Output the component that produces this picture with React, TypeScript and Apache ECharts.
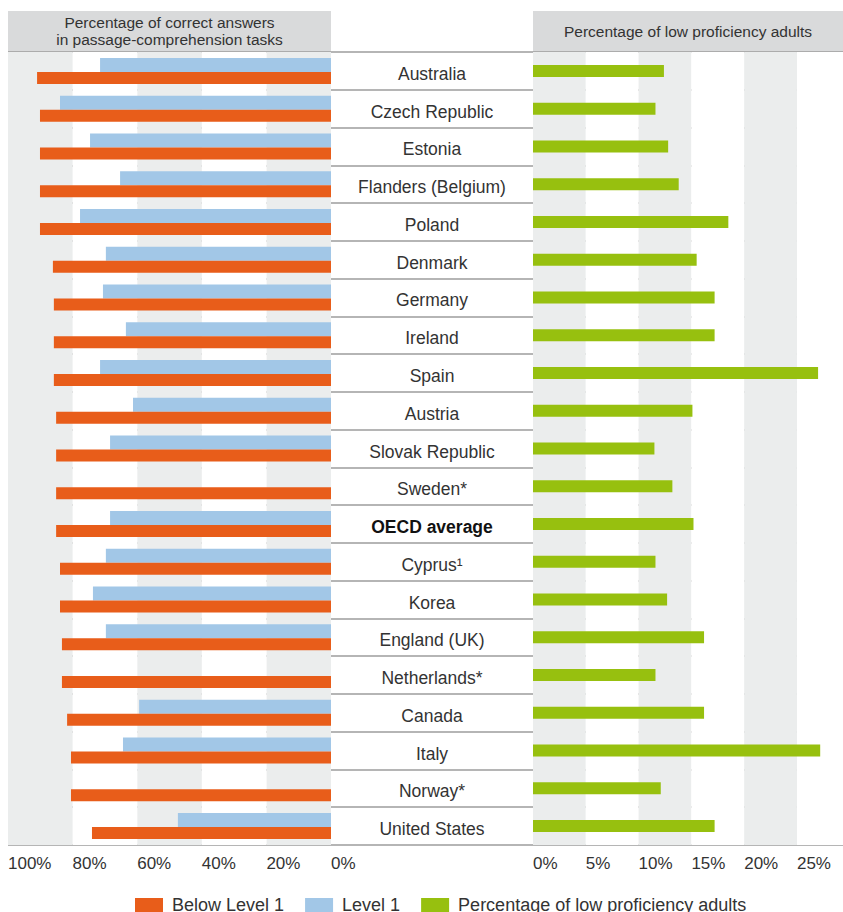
import React, { useEffect, useRef } from "react";
import * as echarts from "echarts";

const countries = [
  "Australia", "Czech Republic", "Estonia", "Flanders (Belgium)", "Poland", "Denmark",
  "Germany", "Ireland", "Spain", "Austria", "Slovak Republic", "Sweden*", "OECD average",
  "Cyprus¹", "Korea", "England (UK)", "Netherlands*", "Canada", "Italy", "Norway*", "United States",
];
const belowLevel1 = [91.0, 90.1, 90.1, 90.1, 90.1, 86.1, 85.8, 85.8, 85.8, 85.1, 85.1, 85.1, 85.1, 83.9, 83.9, 83.3, 83.3, 81.7, 80.5, 80.5, 74.0];
const level1 = [71.5, 83.9, 74.6, 65.3, 77.7, 69.7, 70.6, 63.5, 71.5, 61.3, 68.4, null, 68.4, 69.7, 73.7, 69.7, null, 59.4, 64.4, null, 47.4];
const lowProficiency = [12.4, 11.6, 12.8, 13.8, 18.5, 15.5, 17.2, 17.2, 27.0, 15.1, 11.5, 13.2, 15.2, 11.6, 12.7, 16.2, 11.6, 16.2, 27.2, 12.1, 17.2];
const leftTicks = [0, 20, 40, 60, 80, 100];
const rightTicks = [0, 5, 10, 15, 20, 25];

const FONT = "'Liberation Sans', Arial, sans-serif";
const ORANGE = "#e85d1a";
const BLUE = "#a2c7e7";
const GREEN = "#97c00f";
const STRIPE = "#ebeded";
const LINE = "#9c9c9c";
const TEXT = "#333333";

export default function App() {
  const ref = useRef<HTMLDivElement>(null);
  useEffect(() => {
    document.body.style.margin = "0";
    const chart = echarts.init(ref.current!, null, { renderer: "svg" });
    const catSplit = { show: true, interval: 0, lineStyle: { color: LINE, width: 1.5 } };
    chart.setOption({
      animation: false,
      textStyle: { fontFamily: FONT },
      grid: [
        { left: 8, width: 323, top: 52, height: 793 },
        { left: 331, width: 202, top: 52, height: 793 },
        { left: 533, width: 310, top: 52, height: 793 },
      ],
      xAxis: [
        {
          gridIndex: 0, type: "value", min: 0, max: 100, interval: 20, inverse: true,
          axisLine: { show: false }, axisTick: { show: false }, splitLine: { show: false },
          splitArea: { show: true, areaStyle: { color: [STRIPE, "#ffffff"] } },
          axisLabel: {
            align: "left", margin: 10, fontSize: 17, color: TEXT, fontFamily: FONT,
            formatter: (v: number) => (leftTicks.includes(v) ? v + "%" : ""),
          },
        },
        { gridIndex: 1, type: "value", show: false },
        {
          gridIndex: 2, type: "value", min: 0, max: 29.36, interval: 5,
          axisLine: { show: false }, axisTick: { show: false }, splitLine: { show: false },
          splitArea: { show: true, areaStyle: { color: [STRIPE, "#ffffff"] } },
          axisLabel: {
            align: "left", margin: 10, fontSize: 17, color: TEXT, fontFamily: FONT,
            showMaxLabel: false,
            formatter: (v: number) => (rightTicks.includes(v) ? v + "%" : ""),
          },
        },
      ],
      yAxis: [
        {
          gridIndex: 0, type: "category", data: countries, inverse: true,
          axisLine: { show: false }, axisTick: { show: false }, axisLabel: { show: false },
          splitLine: catSplit,
        },
        {
          gridIndex: 1, type: "category", data: countries, inverse: true,
          axisLine: { show: false }, axisTick: { show: false }, axisLabel: { show: false },
          splitLine: catSplit,
        },
        {
          gridIndex: 2, type: "category", data: countries, inverse: true,
          axisLine: { show: false }, axisTick: { show: false },
          splitLine: catSplit,
          axisLabel: {
            interval: 0, align: "center", margin: 101, fontSize: 17.5, color: TEXT, fontFamily: FONT,
            padding: [6, 0, 0, 0],
            formatter: (v: string) => (v === "OECD average" ? `{b|${v}}` : v),
            rich: { b: { fontWeight: "bold", fontSize: 17.5, color: "#111", fontFamily: FONT } },
          },
        },
      ],
      legend: {
        left: 130, top: 891, itemWidth: 28, itemHeight: 14, itemGap: 21,
        icon: "rect",
        data: ["Below Level 1", "Level 1", "Percentage of low proficiency adults"],
        textStyle: { fontSize: 18, color: TEXT, fontFamily: FONT, padding: [0, 0, 0, 4] },
      },
      series: [
        {
          name: "Level 1", type: "bar", xAxisIndex: 0, yAxisIndex: 0, data: level1,
          barWidth: 14, barGap: "0%", itemStyle: { color: BLUE },
        },
        {
          name: "Below Level 1", type: "bar", xAxisIndex: 0, yAxisIndex: 0, data: belowLevel1,
          barWidth: 12, barGap: "0%", itemStyle: { color: ORANGE },
        },
        {
          name: "Percentage of low proficiency adults", type: "bar", xAxisIndex: 2, yAxisIndex: 2,
          data: lowProficiency, barWidth: 12, itemStyle: { color: GREEN },
        },
      ],
      graphic: [
        { type: "rect", shape: { x: 8, y: 11, width: 323, height: 41 }, style: { fill: "#d9dadb" } },
        { type: "rect", shape: { x: 533, y: 11, width: 310, height: 41 }, style: { fill: "#d9dadb" } },
        {
          type: "text", x: 169.5, y: 31,
          style: {
            text: "Percentage of correct answers\nin passage-comprehension tasks",
            font: `15.5px ${FONT}`, fill: TEXT, align: "center", verticalAlign: "middle", lineHeight: 17,
          },
        },
        {
          type: "text", x: 688, y: 31,
          style: {
            text: "Percentage of low proficiency adults",
            font: `15.5px ${FONT}`, fill: TEXT, align: "center", verticalAlign: "middle",
          },
        },
      ],
    });
    return () => chart.dispose();
  }, []);
  return <div ref={ref} style={{ position: "absolute", left: 0, top: 0, width: 843, height: 912 }} />;
}
